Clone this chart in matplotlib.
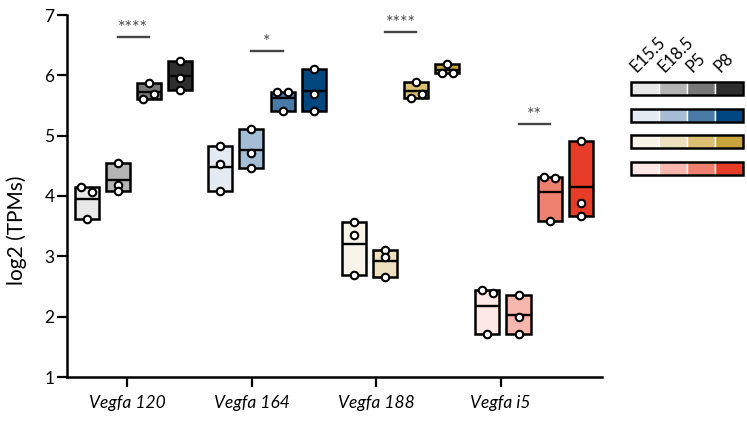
import matplotlib.pyplot as plt
import numpy as np
from matplotlib.patches import Rectangle

plt.rcParams['font.family'] = ['Lato', 'DejaVu Sans']

genes = ['Vegfa 120', 'Vegfa 164', 'Vegfa 188', 'Vegfa i5']
stages = ['E15.5', 'E18.5', 'P5', 'P8']

# log2 TPM, three replicates per stage
vegfa120 = [[4.15, 4.07, 3.62], [4.55, 4.18, 4.08], [5.87, 5.61, 5.69], [6.24, 5.96, 5.76]]
vegfa164 = [[4.83, 4.53, 4.08], [5.11, 4.71, 4.46], [5.72, 5.72, 5.41], [6.10, 5.69, 5.41]]
vegfa188 = [[3.57, 3.35, 2.69], [3.10, 2.99, 2.66], [5.89, 5.63, 5.69], [6.19, 6.04, 6.04]]
vegfai5 = [[2.44, 2.39, 1.71], [2.36, 1.99, 1.71], [4.32, 4.30, 3.59], [4.91, 3.88, 3.67]]
data = [vegfa120, vegfa164, vegfa188, vegfai5]

# E18.5 vs P5 comparison
sig_text = ['****', '*', '****', '**']
sig_y = [6.64, 6.40, 6.72, 5.19]

palettes = [['#e8e8e8', '#b4b4b4', '#787878', '#2e2e2e'],
            ['#e3eaf2', '#a5bed5', '#4a7ba6', '#00467f'],
            ['#f8f4ea', '#ede0be', '#dbbf72', '#c9a43a'],
            ['#fde8e6', '#f7b7ae', '#ee8070', '#e63c28']]

first = 19.5
group_step = 133.6
box_step = 31.2
box_w = 24
spread = 5.5


def jitter(vals):
    # nudge replicates that would overlap sideways
    off = np.zeros(len(vals))
    used = set()
    for a in range(len(vals)):
        if a in used:
            continue
        for b in range(a + 1, len(vals)):
            if b not in used and abs(vals[a] - vals[b]) < 0.09:
                off[a] = -spread
                off[b] = spread
                used.update((a, b))
                break
    return off


fig = plt.figure(figsize=(7.47, 4.28), dpi=100)
ax = fig.add_axes([67/747, 51/428, 535/747, 362/428])

for g in range(4):
    for k in range(4):
        vals = np.array(data[g][k])
        x = first + g*group_step + k*box_step
        lo, hi = vals.min(), vals.max()
        ax.bar(x, hi - lo, bottom=lo, width=box_w, color=palettes[g][k],
               edgecolor='k', linewidth=1.8, zorder=2)
        ax.plot([x - box_w/2, x + box_w/2], [vals.mean()]*2, color='k',
                lw=1.7, zorder=3, solid_capstyle='butt')
        ax.plot(x + jitter(vals), vals, 'o', ms=5.4, mfc='white', mec='k',
                mew=1.5, zorder=4, clip_on=False)
    x1 = first + g*group_step + box_step
    x2 = x1 + box_step
    ax.plot([x1, x2], [sig_y[g]]*2, color='#444444', lw=1.7)
    ax.text((x1 + x2)/2, sig_y[g] + 0.02, sig_text[g], ha='center',
            va='bottom', fontsize=13, color='#4a4a4a')

ax.set_xlim(0, 535)
ax.set_ylim(1, 7)
ax.set_yticks(range(1, 8))
ax.set_xticks([60 + 124.5*g for g in range(4)])
ax.set_xticklabels(genes, fontstyle='italic', fontsize=12.5)
ax.tick_params(axis='y', labelsize=12.5, length=7, width=1.6, pad=2)
ax.tick_params(axis='x', length=7, width=1.6, pad=6)
ax.set_ylabel('log2 (TPMs)', fontsize=15)
ax.yaxis.set_label_coords(-0.075, 0.405)
for s in ['top', 'right']:
    ax.spines[s].set_visible(False)
for s in ['left', 'bottom']:
    ax.spines[s].set_linewidth(1.8)

# colour key
lg = fig.add_axes([631/747, (428 - 175)/428, 112/747, 93/428])
lg.set_xlim(0, 4)
lg.set_ylim(3.49, 0)
lg.axis('off')
for r in range(4):
    for k in range(4):
        lg.add_patch(Rectangle((k, r), 1, 0.49, facecolor=palettes[r][k],
                               edgecolor='white', lw=1))
    lg.add_patch(Rectangle((0, r), 4, 0.49, fill=False, edgecolor='k',
                           lw=1.8, clip_on=False))
for k in range(4):
    lg.text(k + 0.2, -0.32, stages[k], rotation=45, rotation_mode='anchor',
            ha='left', va='baseline', fontsize=12)

fig.savefig('out.png', dpi=100)
